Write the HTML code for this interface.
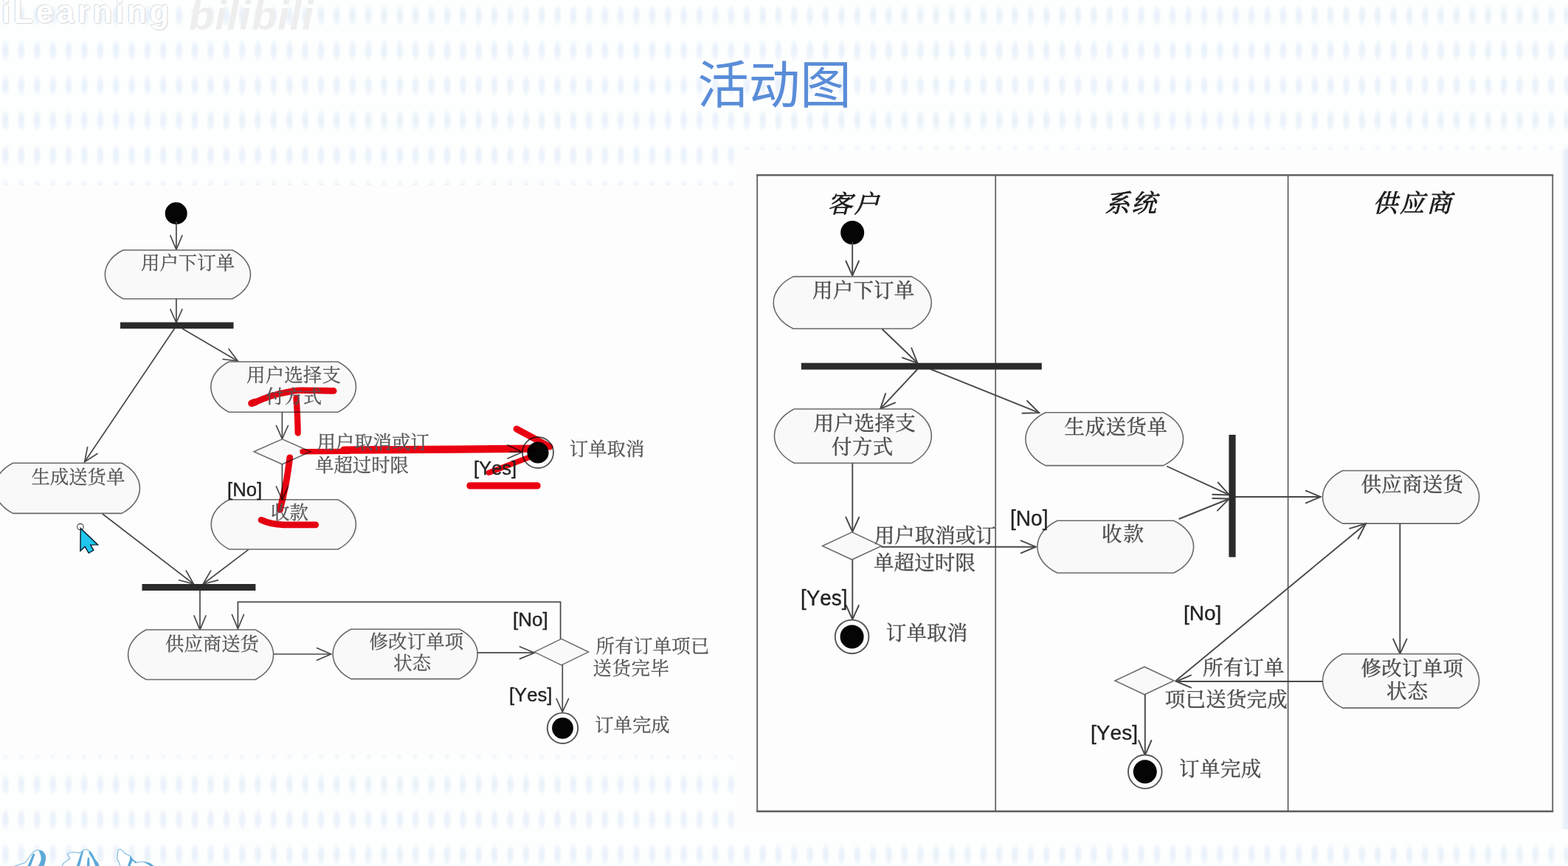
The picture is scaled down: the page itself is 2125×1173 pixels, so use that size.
<!DOCTYPE html>
<html lang="zh-CN">
<head>
<meta charset="utf-8">
<title>活动图</title>
<style>
html,body{margin:0;padding:0;}
body{width:2125px;height:1173px;overflow:hidden;position:relative;background:#fdfeff;font-family:"Liberation Sans",sans-serif;}
#bg{position:absolute;left:0;top:0;width:2125px;height:1173px;background-color:#fdfefe;
 background-image:radial-gradient(ellipse 6px 15.5px at 50% 50%,rgba(232,240,250,1) 0%,rgba(234,242,251,.85) 50%,rgba(243,248,253,0) 100%);
 background-size:21.383px 47.35px;background-position:-3.2px -2.7px;}
.white{position:absolute;background:#fdfdfd;}
#main{position:absolute;left:0;top:0;width:2125px;height:1173px;filter:blur(0.55px);}
.t{position:absolute;margin-top:1.2px;color:#555555;-webkit-text-stroke:0.28px #555555;white-space:nowrap;line-height:1.2;font-family:"Liberation Serif","Noto Serif CJK SC",serif;overflow:visible;filter:blur(0.5px);font-kerning:none;}
.t.tr{color:#4c4c4c;-webkit-text-stroke:0.4px #4c4c4c;}
.t.th{color:#1c1c1c;-webkit-text-stroke:0.8px #1c1c1c;font-style:italic;}
.t.tt{color:#5a8dd8;-webkit-text-stroke:0;font-family:"Liberation Sans","Noto Sans CJK SC",sans-serif;}
.lb{position:absolute;filter:blur(0.5px);font-kerning:none;transform-origin:0 0;-webkit-text-stroke:0.35px #222;color:#222;white-space:nowrap;line-height:1;font-family:"Liberation Sans",sans-serif;}
#wm1{position:absolute;left:2px;top:-5px;font:bold 43.5px/1 "Liberation Sans",sans-serif;letter-spacing:3.9px;color:#fff;text-shadow:0 0 1.5px #c9ced4,1px 1px 1px #d8dbe0,-1px -1px 1px #dfe2e6;white-space:nowrap;}
#wm2{position:absolute;left:256px;top:-7px;font:italic bold 56px/1 "Liberation Sans",sans-serif;letter-spacing:1px;color:#eeeeee;white-space:nowrap;}
</style>
</head>
<body>
<div id="bg"></div>
<div class="white" style="left:0;top:251px;width:1001px;height:772px"></div>
<div class="white" style="left:1001px;top:203px;width:1116px;height:920px"></div>
<div style="position:absolute;left:2117px;top:203px;width:8px;height:920px;background:linear-gradient(90deg,#f3f7fc,#e8f0f9 60%,#e6eff9)"></div>
<div id="wm1">iLearning</div>
<div id="wm2">bilibili</div>
<svg id="callig" width="240" height="43" viewBox="0 0 240 43" style="position:absolute;left:0;top:1130px;filter:blur(0.5px)">
<g fill="#fff" stroke="#7ab8dc" stroke-width="1.1" stroke-linejoin="round">
<path d="M17.5 44 L33.9 38.4 C37 35 39 31.5 41.8 28.2 C44 25.5 46 23.4 47.4 22.6 C49 21.6 50.5 21.3 52 21.5 C55 21.8 57.5 22.8 58.7 24.3 C60.8 26.8 61.8 29.8 61.6 32.8 C61.2 36.5 60 40 58.7 44 Z"/>
<path d="M83.6 44 L85.8 39.5 C89 37 92 35 94.9 32.8 C93.5 30.8 92.3 28.7 91.5 26.5 C93.6 25.4 96 24.7 98.3 24.3 C101.7 24.2 105 24.8 108.4 25.4 C109.8 24 111.3 22.6 112.9 21.5 C114.8 20.8 116.7 20.6 118.6 20.9 C120.8 22.3 122.7 24 124.2 26 C125.5 28.2 126.6 30.5 127.6 32.8 C129 34.8 130.6 36.6 132.1 38.4 L134.4 44 Z"/>
<path d="M160.4 20.9 C161.5 20.3 162.6 20.1 163.8 20.3 C165.8 22.1 167.6 24 169.4 26 C171.6 27.3 174 28.3 176.2 29.4 C177.5 30.8 178.6 32.3 179.6 33.9 C181.4 35.5 183.3 37 185.2 38.4 C188.2 37.6 191.2 37.2 194.3 37.3 C197.4 37.6 200.4 38.4 203.3 39.5 L209 44 L163.2 44 C162.6 42 162 40.2 161.5 38.4 C160.2 36.6 159.2 34.8 158.7 32.8 C158.8 28.8 159.4 24.8 160.4 20.9 Z"/>
</g>
<g fill="#5aaad8">
<path d="M52.5 21.6 C55.5 22 58 23 59.2 24.6 C61.2 27 62.1 30 61.9 33 C61.5 36.6 60.3 40 59 44 L51.5 44 C53.5 40.5 55.2 37 55.6 33.5 C55.8 30.5 55 27.5 53.5 25 C53.2 23.8 52.9 22.7 52.5 21.6 Z"/>
<path d="M47.6 26.4 L44.6 26.6 L37 44 L41.4 44 Z"/>
<path d="M113.2 22.2 L110.5 23.5 L103.5 44 L107.8 44 Z"/>
<path d="M120 21.4 C122 22.8 123.6 24.4 124.9 26.2 C126.2 28.4 127.3 30.6 128.2 32.9 C129.5 34.9 131 36.7 132.6 38.4 L134.9 44 L129.6 44 C128.4 40.5 127.2 37.2 125.6 34 C124.2 31.2 122.4 28.6 120.6 26 C120.8 24.4 120.6 22.8 120 21.4 Z"/>
<path d="M121 31.5 L118.6 32 L117.8 44 L121.6 44 Z"/>
<path d="M176.5 29.6 C177.8 31 178.9 32.5 179.9 34 C181.7 35.6 183.5 37 185.4 38.4 L183.8 39.5 C182.4 38.2 180.8 37 179.4 35.8 L176.2 44 L172.6 44 L176 34 C175.8 32.5 176 31 176.5 29.6 Z"/>
<path d="M194.5 37.4 C197.6 37.7 200.6 38.5 203.5 39.6 L209.3 44 L205 44 C202 41.5 198.5 39.5 194.5 37.4 Z"/>
</g>
</svg>
<svg id="main" width="2125" height="1173" viewBox="0 0 2125 1173">
<circle cx="238.7" cy="289" r="15" fill="#050505"/>
<polyline points="238.9,300 238.9,338" fill="none" stroke="#484848" stroke-width="1.7" stroke-linejoin="miter"/>
<polyline points="230.9,319 238.9,338 246.9,319" fill="none" stroke="#484848" stroke-width="1.7" stroke-linejoin="miter" stroke-linecap="round"/>
<path d="M166.9 338.8L314.9 338.8A57.5 40.2 0 0 1 314.9 404.7L166.9 404.7A57.5 40.2 0 0 1 166.9 338.8Z" fill="#f9f9f9" stroke="#6a6a6a" stroke-width="1.6" stroke-linejoin="round"/>
<polyline points="238.9,404.7 238.9,437" fill="none" stroke="#484848" stroke-width="1.7" stroke-linejoin="miter"/>
<polyline points="230.9,419 238.9,437 246.9,419" fill="none" stroke="#484848" stroke-width="1.7" stroke-linejoin="miter" stroke-linecap="round"/>
<polyline points="236.5,445 114.6,625.8" fill="none" stroke="#484848" stroke-width="1.7" stroke-linejoin="miter"/>
<polyline points="118.6,605.6 114.6,625.8 131.9,614.5" fill="none" stroke="#484848" stroke-width="1.7" stroke-linejoin="miter" stroke-linecap="round"/>
<polyline points="247,445 322.4,489.2" fill="none" stroke="#484848" stroke-width="1.7" stroke-linejoin="miter"/>
<polyline points="302,486.5 322.4,489.2 310.1,472.7" fill="none" stroke="#484848" stroke-width="1.7" stroke-linejoin="miter" stroke-linecap="round"/>
<rect x="163" y="436.5" width="153.5" height="8.7" fill="#2b2b2b"/>
<path d="M310.4 490L457.9 490A57.5 41.6 0 0 1 457.9 558.2L310.4 558.2A57.5 41.6 0 0 1 310.4 490Z" fill="#f9f9f9" stroke="#6a6a6a" stroke-width="1.6" stroke-linejoin="round"/>
<polyline points="382.4,558.2 382.4,594.5" fill="none" stroke="#484848" stroke-width="1.7" stroke-linejoin="miter"/>
<polyline points="374.4,576.5 382.4,594.5 390.4,576.5" fill="none" stroke="#484848" stroke-width="1.7" stroke-linejoin="miter" stroke-linecap="round"/>
<polyline points="690,612 708,612.2" fill="none" stroke="#484848" stroke-width="1.7" stroke-linejoin="miter"/>
<polyline points="687.9,621 708,612.2 688.1,603" fill="none" stroke="#484848" stroke-width="1.7" stroke-linejoin="miter" stroke-linecap="round"/>
<polygon points="344,611.8 382.4,594.8 420.8,611.8 382.4,628.8" fill="#f9f9f9" stroke="#707070" stroke-width="1.6"/>
<polyline points="382.4,628.8 382.4,677" fill="none" stroke="#484848" stroke-width="1.7" stroke-linejoin="miter"/>
<polyline points="374.4,659 382.4,677 390.4,659" fill="none" stroke="#484848" stroke-width="1.7" stroke-linejoin="miter" stroke-linecap="round"/>
<circle cx="729" cy="613" r="21" fill="#fdfdfd" stroke="#555" stroke-width="1.9"/>
<circle cx="729" cy="613" r="14.6" fill="#050505"/>
<path d="M17.5 627.2L164.9 627.2A57.5 41.6 0 0 1 164.9 695.4L17.5 695.4A57.5 41.6 0 0 1 17.5 627.2Z" fill="#f9f9f9" stroke="#6a6a6a" stroke-width="1.6" stroke-linejoin="round"/>
<path d="M310.7 676.7L457.9 676.7A57.5 41.1 0 0 1 457.9 744L310.7 744A57.5 41.1 0 0 1 310.7 676.7Z" fill="#f9f9f9" stroke="#6a6a6a" stroke-width="1.6" stroke-linejoin="round"/>
<polyline points="138.8,696 262.4,791" fill="none" stroke="#484848" stroke-width="1.7" stroke-linejoin="miter"/>
<polyline points="242.5,785.8 262.4,791 252.2,773.1" fill="none" stroke="#484848" stroke-width="1.7" stroke-linejoin="miter" stroke-linecap="round"/>
<polyline points="336.5,744.6 275.3,791" fill="none" stroke="#484848" stroke-width="1.7" stroke-linejoin="miter"/>
<polyline points="285.6,773.1 275.3,791 295.3,785.9" fill="none" stroke="#484848" stroke-width="1.7" stroke-linejoin="miter" stroke-linecap="round"/>
<rect x="192.5" y="791" width="153.9" height="9" fill="#2b2b2b"/>
<polyline points="271,800 271,853" fill="none" stroke="#484848" stroke-width="1.7" stroke-linejoin="miter"/>
<polyline points="263,834 271,853 279,834" fill="none" stroke="#484848" stroke-width="1.7" stroke-linejoin="miter" stroke-linecap="round"/>
<polyline points="759.6,866 759.6,815.4 322.4,815.4 322.4,851.5" fill="none" stroke="#484848" stroke-width="1.7" stroke-linejoin="miter"/>
<polyline points="314.4,832.5 322.4,851.5 330.4,832.5" fill="none" stroke="#484848" stroke-width="1.7" stroke-linejoin="miter" stroke-linecap="round"/>
<path d="M198.1 853L346.1 853A57.5 41.2 0 0 1 346.1 920.5L198.1 920.5A57.5 41.2 0 0 1 198.1 853Z" fill="#f9f9f9" stroke="#6a6a6a" stroke-width="1.6" stroke-linejoin="round"/>
<polyline points="370.6,886 448.6,886" fill="none" stroke="#484848" stroke-width="1.7" stroke-linejoin="miter"/>
<polyline points="429.6,894.2 448.6,886 429.6,877.8" fill="none" stroke="#484848" stroke-width="1.7" stroke-linejoin="miter" stroke-linecap="round"/>
<path d="M475.7 852.2L622.6 852.2A57.5 41.1 0 0 1 622.6 919.6L475.7 919.6A57.5 41.1 0 0 1 475.7 852.2Z" fill="#f9f9f9" stroke="#6a6a6a" stroke-width="1.6" stroke-linejoin="round"/>
<polyline points="647.1,884.2 724.5,884.2" fill="none" stroke="#484848" stroke-width="1.7" stroke-linejoin="miter"/>
<polyline points="704.5,892.4 724.5,884.2 704.5,876" fill="none" stroke="#484848" stroke-width="1.7" stroke-linejoin="miter" stroke-linecap="round"/>
<polygon points="724.2,883.1 760.8,865.3 797.4,883.1 760.8,900.9" fill="#f9f9f9" stroke="#707070" stroke-width="1.6"/>
<polyline points="762.3,900.5 762.3,964.5" fill="none" stroke="#484848" stroke-width="1.7" stroke-linejoin="miter"/>
<polyline points="754.1,946.5 762.3,964.5 770.5,946.5" fill="none" stroke="#484848" stroke-width="1.7" stroke-linejoin="miter" stroke-linecap="round"/>
<circle cx="762.5" cy="986.3" r="20.7" fill="#fdfdfd" stroke="#555" stroke-width="1.9"/>
<circle cx="762.5" cy="986.3" r="14.4" fill="#050505"/>
<rect x="1026.2" y="237.3" width="1078" height="861.6" fill="none" stroke="#686868" stroke-width="1.9"/>
<polyline points="1025.2,237.1 2105.2,237.1" fill="none" stroke="#606060" stroke-width="2.3" stroke-linejoin="miter"/>
<polyline points="1025.2,1099 2105.2,1099" fill="none" stroke="#5c5c5c" stroke-width="2.3" stroke-linejoin="miter"/>
<polyline points="1349.2,237 1349.2,1099" fill="none" stroke="#5e5e5e" stroke-width="1.7" stroke-linejoin="miter"/>
<polyline points="1745.6,237 1745.6,1099" fill="none" stroke="#5e5e5e" stroke-width="1.7" stroke-linejoin="miter"/>
<circle cx="1155.2" cy="315.1" r="16" fill="#050505"/>
<polyline points="1155.2,328 1155.2,373.5" fill="none" stroke="#484848" stroke-width="1.9" stroke-linejoin="miter"/>
<polyline points="1146.4,353.5 1155.2,373.5 1164,353.5" fill="none" stroke="#484848" stroke-width="1.9" stroke-linejoin="miter" stroke-linecap="round"/>
<path d="M1075.2 374.6L1235.3 374.6A63.3 43.1 0 0 1 1235.3 445.2L1075.2 445.2A63.3 43.1 0 0 1 1075.2 374.6Z" fill="#f9f9f9" stroke="#6a6a6a" stroke-width="1.6" stroke-linejoin="round"/>
<polyline points="1195.3,445.5 1243.5,491.8" fill="none" stroke="#484848" stroke-width="1.9" stroke-linejoin="miter"/>
<polyline points="1222.8,484.4 1243.5,491.8 1235.3,471.5" fill="none" stroke="#484848" stroke-width="1.9" stroke-linejoin="miter" stroke-linecap="round"/>
<polyline points="1243.5,500 1193,553.8" fill="none" stroke="#484848" stroke-width="1.9" stroke-linejoin="miter"/>
<polyline points="1200.1,533.1 1193,553.8 1213.2,545.4" fill="none" stroke="#484848" stroke-width="1.9" stroke-linejoin="miter" stroke-linecap="round"/>
<polyline points="1261.2,500 1408.2,559.2" fill="none" stroke="#484848" stroke-width="1.9" stroke-linejoin="miter"/>
<polyline points="1385.4,559.7 1408.2,559.2 1392.1,543" fill="none" stroke="#484848" stroke-width="1.9" stroke-linejoin="miter" stroke-linecap="round"/>
<rect x="1085.9" y="491.6" width="325.9" height="9" fill="#2b2b2b"/>
<path d="M1076.4 554L1235.4 554A63.3 44.7 0 0 1 1235.4 627.2L1076.4 627.2A63.3 44.7 0 0 1 1076.4 554Z" fill="#f9f9f9" stroke="#6a6a6a" stroke-width="1.6" stroke-linejoin="round"/>
<polyline points="1155.3,627.2 1155.3,720.5" fill="none" stroke="#484848" stroke-width="1.9" stroke-linejoin="miter"/>
<polyline points="1146.3,700.5 1155.3,720.5 1164.3,700.5" fill="none" stroke="#484848" stroke-width="1.9" stroke-linejoin="miter" stroke-linecap="round"/>
<polyline points="1194,740.7 1403.8,740.7" fill="none" stroke="#484848" stroke-width="1.9" stroke-linejoin="miter"/>
<polyline points="1383.8,749.1 1403.8,740.7 1383.8,732.3" fill="none" stroke="#484848" stroke-width="1.9" stroke-linejoin="miter" stroke-linecap="round"/>
<polygon points="1114.6,739.4 1154.6,720.8 1194.6,739.4 1154.6,758" fill="#f9f9f9" stroke="#707070" stroke-width="1.6"/>
<polyline points="1155.3,758 1155.3,839" fill="none" stroke="#484848" stroke-width="1.9" stroke-linejoin="miter"/>
<polyline points="1146.7,820 1155.3,839 1163.9,820" fill="none" stroke="#484848" stroke-width="1.9" stroke-linejoin="miter" stroke-linecap="round"/>
<circle cx="1154.6" cy="862.4" r="22.8" fill="#fdfdfd" stroke="#555" stroke-width="1.9"/>
<circle cx="1154.6" cy="862.4" r="16" fill="#050505"/>
<path d="M1416.9 558.8L1576.5 558.8A63.3 43.8 0 0 1 1576.5 630.6L1416.9 630.6A63.3 43.8 0 0 1 1416.9 558.8Z" fill="#f9f9f9" stroke="#6a6a6a" stroke-width="1.6" stroke-linejoin="round"/>
<polyline points="1581.2,631.5 1666,670.4" fill="none" stroke="#484848" stroke-width="1.9" stroke-linejoin="miter"/>
<polyline points="1643.2,669.8 1666,670.4 1650.7,653.5" fill="none" stroke="#484848" stroke-width="1.9" stroke-linejoin="miter" stroke-linecap="round"/>
<path d="M1432.9 705.2L1590.6 705.2A63.3 43.2 0 0 1 1590.6 776L1432.9 776A63.3 43.2 0 0 1 1432.9 705.2Z" fill="#f9f9f9" stroke="#6a6a6a" stroke-width="1.6" stroke-linejoin="round"/>
<polyline points="1597.6,703 1666,675.5" fill="none" stroke="#484848" stroke-width="1.9" stroke-linejoin="miter"/>
<polyline points="1649.9,691.7 1666,675.5 1643.2,675" fill="none" stroke="#484848" stroke-width="1.9" stroke-linejoin="miter" stroke-linecap="round"/>
<polyline points="1674,673 1789.8,673" fill="none" stroke="#484848" stroke-width="1.9" stroke-linejoin="miter"/>
<polyline points="1769.8,681.4 1789.8,673 1769.8,664.6" fill="none" stroke="#484848" stroke-width="1.9" stroke-linejoin="miter" stroke-linecap="round"/>
<rect x="1665.4" y="588.9" width="9.2" height="165.7" fill="#2b2b2b"/>
<path d="M1819.5 637.5L1977.6 637.5A63.3 43.7 0 0 1 1977.6 709.1L1819.5 709.1A63.3 43.7 0 0 1 1819.5 637.5Z" fill="#f9f9f9" stroke="#6a6a6a" stroke-width="1.6" stroke-linejoin="round"/>
<polyline points="1897.3,709.1 1897.3,885.6" fill="none" stroke="#484848" stroke-width="1.9" stroke-linejoin="miter"/>
<polyline points="1888.1,865.6 1897.3,885.6 1906.5,865.6" fill="none" stroke="#484848" stroke-width="1.9" stroke-linejoin="miter" stroke-linecap="round"/>
<path d="M1819.5 885.8L1977.6 885.8A63.3 44.6 0 0 1 1977.6 958.9L1819.5 958.9A63.3 44.6 0 0 1 1819.5 885.8Z" fill="#f9f9f9" stroke="#6a6a6a" stroke-width="1.6" stroke-linejoin="round"/>
<polyline points="1792.5,923 1594,923" fill="none" stroke="#484848" stroke-width="1.9" stroke-linejoin="miter"/>
<polyline points="1614,914.6 1594,923 1614,931.4" fill="none" stroke="#484848" stroke-width="1.9" stroke-linejoin="miter" stroke-linecap="round"/>
<polyline points="1593,922.6 1851,709.4" fill="none" stroke="#484848" stroke-width="1.9" stroke-linejoin="miter"/>
<polyline points="1840.5,729.7 1851,709.4 1829.1,715.8" fill="none" stroke="#484848" stroke-width="1.9" stroke-linejoin="miter" stroke-linecap="round"/>
<polygon points="1511,922 1551,903.2 1591,922 1551,940.8" fill="#f9f9f9" stroke="#707070" stroke-width="1.6"/>
<polyline points="1551.8,940.8 1551.8,1023" fill="none" stroke="#484848" stroke-width="1.9" stroke-linejoin="miter"/>
<polyline points="1543.2,1003 1551.8,1023 1560.4,1003" fill="none" stroke="#484848" stroke-width="1.9" stroke-linejoin="miter" stroke-linecap="round"/>
<circle cx="1551.8" cy="1045.3" r="22.8" fill="#fdfdfd" stroke="#555" stroke-width="1.9"/>
<circle cx="1551.8" cy="1045.3" r="16" fill="#050505"/>
<g style="mix-blend-mode:multiply"><path d="M341 546.3 C350 543 357 540 364 537.5 C374 534 383 532 391.4 530.7 C397 529.6 401 528.9 405 528.8 C422 528.6 440 529.3 452.2 529.4" fill="none" stroke="#ea0011" stroke-width="8.6" stroke-linecap="round" stroke-linejoin="round"/><path d="M341 546.3 L346 544.6" fill="none" stroke="#ea0011" stroke-width="9.6" stroke-linecap="round" stroke-linejoin="round"/><path d="M401.4 539 C402.6 552 403.4 570 403.7 586.6" fill="none" stroke="#ea0011" stroke-width="8.3" stroke-linecap="round" stroke-linejoin="round"/><path d="M410 611.8 C430 611.8 450 611.6 472 611.4" fill="none" stroke="#ea0011" stroke-width="7.4" stroke-linecap="round" stroke-linejoin="round"/><path d="M466 609.6 C540 609.3 640 608.6 722 607.6" fill="none" stroke="#ea0011" stroke-width="10.4" stroke-linecap="round" stroke-linejoin="round"/><path d="M700 581 C715 589 730 597 745 605.2" fill="none" stroke="#ea0011" stroke-width="8.8" stroke-linecap="round" stroke-linejoin="round"/><path d="M662.5 640.2 C680 633.5 698 626.5 716 619.8" fill="none" stroke="#ea0011" stroke-width="7.4" stroke-linecap="round" stroke-linejoin="round"/><path d="M637 657.9 L728 657.9" fill="none" stroke="#ea0011" stroke-width="9.4" stroke-linecap="round" stroke-linejoin="round"/><path d="M392.8 619.8 C391.5 630 390.3 638 389 646.5 C387.8 654 386.5 660 385 666.5 C384 672 383 676 382 680 C381 684 380 687.5 379.6 690.3" fill="none" stroke="#ea0011" stroke-width="8.8" stroke-linecap="round" stroke-linejoin="round"/><path d="M354 704.3 C362 708 372 710.6 384 710.8 C400 711 415 710.8 427.8 710.8" fill="none" stroke="#ea0011" stroke-width="8.8" stroke-linecap="round" stroke-linejoin="round"/></g>
<circle cx="108.9" cy="713.6" r="4.2" fill="#fdfdfd" stroke="#3c3c3c" stroke-width="1.1"/><path d="M109.2 715.6 L108.9 746 L115.1 740.4 L120.2 749.1 L126.8 745.3 L122.7 738.1 L132.5 737.9 Z" fill="#20c6ee" stroke="#0b2536" stroke-width="1.5" stroke-linejoin="miter"/>
</svg>
<span class="lb" style="left:307.97px;top:650.71px;font-size:25.32px;transform:scaleX(1.016)">[No]</span>
<span class="lb" style="left:641.68px;top:621.60px;font-size:25.43px;transform:scaleX(1.005)">[Yes]</span>
<span class="lb" style="left:694.65px;top:827.11px;font-size:25.32px;transform:scaleX(1.027)">[No]</span>
<span class="lb" style="left:689.97px;top:928.80px;font-size:25.43px;transform:scaleX(1.007)">[Yes]</span>
<span class="lb" style="left:1369.00px;top:687.81px;font-size:28.64px;transform:scaleX(0.980)">[No]</span>
<span class="lb" style="left:1084.51px;top:796.11px;font-size:28.64px;transform:scaleX(0.972)">[Yes]</span>
<span class="lb" style="left:1603.70px;top:816.42px;font-size:28.54px;transform:scaleX(0.982)">[No]</span>
<span class="lb" style="left:1477.50px;top:978.02px;font-size:28.54px;transform:scaleX(0.984)">[Yes]</span>
<span class="t" style="left:190.9px;top:339.9px;width:129.6px;font-size:25.4px;letter-spacing:0.1px">用户下订单</span>
<span class="t" style="left:334.1px;top:491.8px;width:129.9px;font-size:25.4px;letter-spacing:0.2px">用户选择支</span>
<span class="t" style="left:360px;top:520.6px;width:75.8px;font-size:25.4px;letter-spacing:0px">付方式</span>
<span class="t" style="left:429.4px;top:583.1px;width:153.4px;font-size:25.4px;letter-spacing:0px">用户取消或订</span>
<span class="t" style="left:427px;top:614.2px;width:128.8px;font-size:25.4px;letter-spacing:0px">单超过时限</span>
<span class="t" style="left:771.8px;top:591.8px;width:101.6px;font-size:25.4px;letter-spacing:0px">订单取消</span>
<span class="t" style="left:42.4px;top:630px;width:129.1px;font-size:25.4px;letter-spacing:0px">生成送货单</span>
<span class="t" style="left:367px;top:678.3px;width:52.3px;font-size:25.4px;letter-spacing:0px">收款</span>
<span class="t" style="left:224px;top:855.4px;width:128.2px;font-size:25.4px;letter-spacing:0px">供应商送货</span>
<span class="t" style="left:500.5px;top:853.2px;width:130.1px;font-size:25.4px;letter-spacing:0.2px">修改订单项</span>
<span class="t" style="left:533.3px;top:881.9px;width:51.7px;font-size:25.4px;letter-spacing:0px">状态</span>
<span class="t" style="left:807.6px;top:858.7px;width:155.4px;font-size:25.4px;letter-spacing:0.3px">所有订单项已</span>
<span class="t" style="left:803.5px;top:888.7px;width:105px;font-size:25.4px;letter-spacing:0.6px">送货完毕</span>
<span class="t" style="left:806.2px;top:965.9px;width:102.3px;font-size:25.4px;letter-spacing:0px">订单完成</span>
<span class="t th" style="left:1121.4px;top:255.6px;width:67.4px;font-size:33.5px;letter-spacing:2.7px">客户</span>
<span class="t th" style="left:1497.6px;top:255.3px;width:69px;font-size:33.5px;letter-spacing:2.5px">系统</span>
<span class="t th" style="left:1860.6px;top:255.3px;width:105px;font-size:33.5px;letter-spacing:2.9px">供应商</span>
<span class="t tr" style="left:1101px;top:375.8px;width:140.4px;font-size:27.5px;letter-spacing:0.2px">用户下订单</span>
<span class="t tr" style="left:1102.4px;top:555.8px;width:140.4px;font-size:27.5px;letter-spacing:0.2px">用户选择支</span>
<span class="t tr" style="left:1127px;top:587.6px;width:85.2px;font-size:27.5px;letter-spacing:0.4px">付方式</span>
<span class="t tr" style="left:1184.7px;top:707.6px;width:166.3px;font-size:27.5px;letter-spacing:0px">用户取消或订</span>
<span class="t tr" style="left:1184px;top:745.2px;width:140px;font-size:27.5px;letter-spacing:0.1px">单超过时限</span>
<span class="t tr" style="left:1200.7px;top:840px;width:111.5px;font-size:27.5px;letter-spacing:0.2px">订单取消</span>
<span class="t tr" style="left:1442.4px;top:560.5px;width:141.6px;font-size:27.5px;letter-spacing:0.5px">生成送货单</span>
<span class="t tr" style="left:1493px;top:706.1px;width:58.5px;font-size:27.5px;letter-spacing:1.9px">收款</span>
<span class="t tr" style="left:1844.4px;top:638.6px;width:140.4px;font-size:27.5px;letter-spacing:0.3px">供应商送货</span>
<span class="t tr" style="left:1844.4px;top:887.9px;width:141px;font-size:27.5px;letter-spacing:0.3px">修改订单项</span>
<span class="t tr" style="left:1879.1px;top:918.5px;width:57.9px;font-size:27.5px;letter-spacing:1px">状态</span>
<span class="t tr" style="left:1630.1px;top:887px;width:112.3px;font-size:27.5px;letter-spacing:0.1px">所有订单</span>
<span class="t tr" style="left:1578.8px;top:929.4px;width:167.6px;font-size:27.5px;letter-spacing:0.2px">项已送货完成</span>
<span class="t tr" style="left:1598.1px;top:1023.5px;width:112.9px;font-size:27.5px;letter-spacing:0.4px">订单完成</span>
<span class="t tt" style="left:945.2px;top:73.4px;width:201.6px;font-size:69.5px;letter-spacing:0px">活动图</span>
</body>
</html>
